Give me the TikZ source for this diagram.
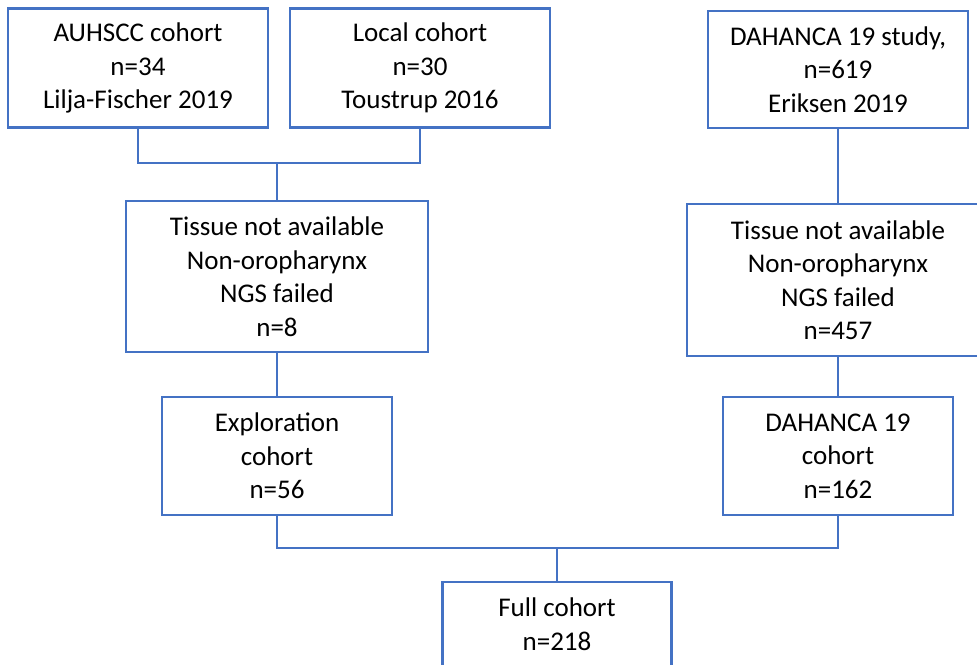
\documentclass[tikz,border=0pt]{standalone}
\usepackage{fontspec}
\setmainfont{Carlito}
\definecolor{boxblue}{HTML}{4472C4}
\tikzset{
  flowbox/.style={draw=boxblue, line width=2.2pt, rectangle, inner sep=0pt, align=center,
    font=\fontsize{27}{33.5}\selectfont, text=black},
  link/.style={draw=boxblue, line width=2.2pt}
}
\begin{document}
\begin{tikzpicture}[x=1pt, y=-1pt]
\useasboundingbox (0,0) rectangle (977,664);
\clip (0,0) rectangle (977,664);
\node[flowbox, minimum width=260pt, minimum height=119pt] (auh) at (138,68) {AUHSCC cohort\\n=34\\Lilja-Fischer 2019};
\node[flowbox, minimum width=260pt, minimum height=119pt] (loc) at (420,68) {Local cohort\\n=30\\Toustrup 2016};
\node[flowbox, minimum width=260pt, minimum height=117pt] (dah) at (838,69.5) {DAHANCA 19 study,\\n=619\\Eriksen 2019};
\node[flowbox, minimum width=302pt, minimum height=151pt] (tl) at (277,276.5) {Tissue not available\\Non-oropharynx\\NGS failed\\n=8};
\node[flowbox, minimum width=302pt, minimum height=152pt] (tr) at (838,280) {Tissue not available\\Non-oropharynx\\NGS failed\\n=457};
\node[flowbox, minimum width=230pt, minimum height=118pt] (ex) at (277,456) {Exploration\\cohort\\n=56};
\node[flowbox, minimum width=230pt, minimum height=118pt] (dc) at (838,456) {DAHANCA 19\\cohort\\n=162};
\node[flowbox, minimum width=229pt, minimum height=84pt] (full) at (557,624) {Full cohort\\n=218};
\coordinate (j1) at (277,163);
\coordinate (j2) at (557,548);
\draw[link] (auh.south) |- (j1) -| (loc.south);
\draw[link] (j1) -- (tl.north);
\draw[link] (dah.south) -- (tr.north);
\draw[link] (tl.south) -- (ex.north);
\draw[link] (tr.south) -- (dc.north);
\draw[link] (ex.south) |- (j2) -| (dc.south);
\draw[link] (j2) -- (full.north);
\end{tikzpicture}
\end{document}
